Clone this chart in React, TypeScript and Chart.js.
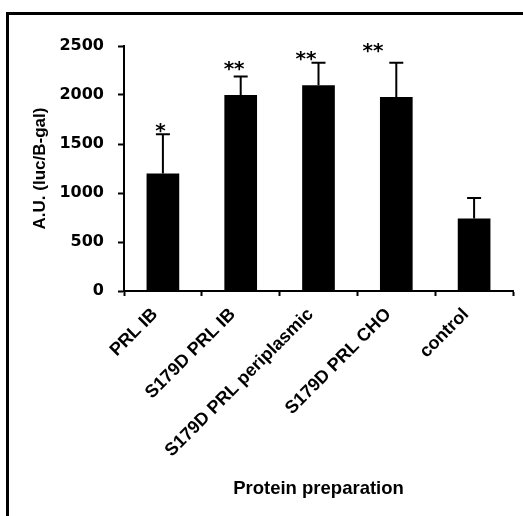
import React, { useEffect, useRef } from "react";
import { Chart, registerables } from "chart.js";

Chart.register(...registerables);

const categories = ["PRL IB", "S179D PRL IB", "S179D PRL periplasmic", "S179D PRL CHO", "control"];
const values = [1200, 2000, 2100, 1980, 740];
const errors = [400, 190, 230, 350, 210];
const stars = ["*", "**", "**", "**", ""];
const starLevels = [1680, 2316, 2423, 2495, 0];
const starShift = [-0.03, -0.085, -0.16, -0.3, 0];
const yMin = 0;
const yMax = 2500;
const yStep = 500;
const yTitle = "A.U. (luc/B-gal)";
const xTitle = "Protein preparation";

const annotPlugin = {
  id: "annot",
  afterDatasetsDraw(chart: any) {
    const ctx = chart.ctx;
    const meta = chart.getDatasetMeta(0);
    const ys = chart.scales.y;
    const xs = chart.scales.x;
    ctx.save();
    ctx.strokeStyle = "#000";
    ctx.lineWidth = 2;
    meta.data.forEach((el: any, i: number) => {
      const x = el.x;
      const y0 = ys.getPixelForValue(values[i]);
      const y1 = ys.getPixelForValue(values[i] + errors[i]);
      ctx.beginPath();
      ctx.moveTo(x, y0);
      ctx.lineTo(x, y1);
      ctx.moveTo(x - 7, y1);
      ctx.lineTo(x + 7, y1);
      ctx.stroke();
    });
    ctx.fillStyle = "#000";
    ctx.font = "bold 20px 'DejaVu Sans'";
    ctx.textAlign = "center";
    ctx.textBaseline = "alphabetic";
    stars.forEach((s, i) => {
      if (!s) return;
      const x = xs.getPixelForValue(i + starShift[i]);
      const y = ys.getPixelForValue(starLevels[i]) + 11;
      ctx.fillText(s, x, y);
    });
    ctx.restore();
  },
};

export default function App() {
  const ref = useRef<HTMLCanvasElement | null>(null);
  useEffect(() => {
    if (!ref.current) return;
    const chart = new Chart(ref.current, {
      type: "bar",
      data: {
        labels: categories,
        datasets: [
          {
            data: values,
            backgroundColor: "#000",
            borderWidth: 0,
            barPercentage: 0.42,
            categoryPercentage: 1,
          },
        ],
      },
      options: {
        animation: false,
        responsive: true,
        maintainAspectRatio: false,
        layout: { padding: { top: 46, right: 10, bottom: 0, left: 16 } },
        plugins: { legend: { display: false }, tooltip: { enabled: false } },
        scales: {
          x: {
            grid: { drawOnChartArea: false, tickLength: 5, tickWidth: 2, tickColor: "#000", offset: true },
            border: { color: "#000", width: 2 },
            ticks: {
              color: "#000",
              minRotation: 45,
              maxRotation: 45,
              autoSkip: false,
              padding: 8,
              labelOffset: -8,
              font: { family: "'Liberation Sans', Arial", weight: "bold", size: 18 },
            },
            title: {
              display: true,
              text: xTitle,
              color: "#000",
              font: { family: "'Liberation Sans', Arial", weight: "bold", size: 18.5 },
              padding: { top: 0, bottom: 16 },
            },
            afterFit(scale: any) {
              scale.height = 225;
            },
          },
          y: {
            min: yMin,
            max: yMax,
            ticks: {
              stepSize: yStep,
              color: "#000",
              padding: 14,
              font: { family: "'DejaVu Sans'", weight: "bold", size: 16 },
              callback: (v: any) => String(v),
            },
            grid: { drawOnChartArea: false, tickLength: 6, tickWidth: 2, tickColor: "#000" },
            border: { color: "#000", width: 2 },
            title: {
              display: true,
              text: yTitle,
              color: "#000",
              font: { family: "'Liberation Sans', Arial", weight: "bold", size: 17 },
              padding: { top: 14, bottom: 0 },
            },
            afterFit(scale: any) {
              scale.width = 108;
            },
          },
        },
      },
      plugins: [annotPlugin],
    });
    return () => chart.destroy();
  }, []);
  return (
    <div style={{ position: "absolute", left: 0, top: 0, width: 523, height: 516, background: "#fff", overflow: "hidden" }}>
      <div
        style={{
          position: "absolute",
          left: 6,
          top: 12,
          width: 530,
          height: 520,
          borderLeft: "3px solid #000",
          borderTop: "3px solid #000",
          boxSizing: "border-box",
        }}
      />
      <div style={{ position: "absolute", left: 0, top: 0, width: 523, height: 516 }}>
        <canvas ref={ref} />
      </div>
    </div>
  );
}
